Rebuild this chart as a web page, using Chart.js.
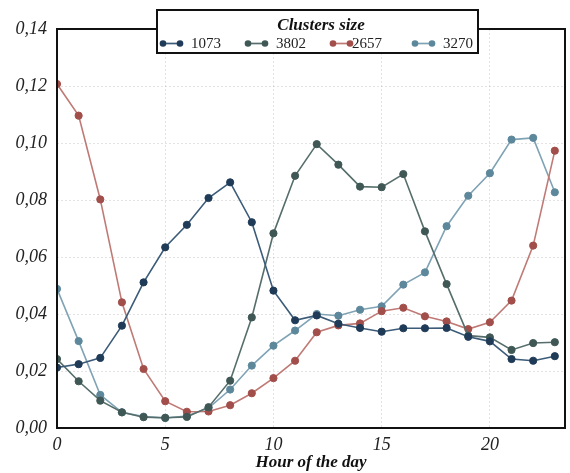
<!DOCTYPE html>
<html>
<head>
<meta charset="utf-8">
<script src="https://cdn.jsdelivr.net/npm/chart.js@4.4.1/dist/chart.umd.min.js"></script>
<style>
  html, body { margin: 0; padding: 0; background: #ffffff; }
  #wrap { position: relative; width: 570px; height: 473px; }
</style>
</head>
<body>
<div id="wrap"><canvas id="chart"></canvas></div>
<script>
// Hour of the day
const hours = [0,1,2,3,4,5,6,7,8,9,10,11,12,13,14,15,16,17,18,19,20,21,22,23];

// Share of activity per hour for each cluster
const c1073 = [0.0212,0.0224,0.0246,0.0359,0.0511,0.0634,0.0713,0.0807,0.0862,0.0722,0.0482,0.0378,0.0395,0.0366,0.0351,0.0338,0.0350,0.0350,0.0351,0.0320,0.0304,0.0242,0.0236,0.0252];
const c3802 = [0.0242,0.0164,0.0096,0.0055,0.0038,0.0036,0.0039,0.0073,0.0166,0.0388,0.0683,0.0885,0.0996,0.0924,0.0847,0.0845,0.0891,0.0690,0.0505,0.0324,0.0318,0.0274,0.0298,0.0301];
const c2657 = [0.1207,0.1096,0.0802,0.0441,0.0207,0.0094,0.0057,0.0058,0.0080,0.0122,0.0175,0.0236,0.0336,0.0360,0.0367,0.0410,0.0422,0.0392,0.0374,0.0347,0.0371,0.0447,0.0640,0.0973];
const c3270 = [0.0488,0.0305,0.0116,0.0055,0.0040,0.0035,0.0042,0.0070,0.0135,0.0219,0.0289,0.0342,0.0400,0.0394,0.0415,0.0427,0.0503,0.0546,0.0708,0.0815,0.0894,0.1012,0.1018,0.0827];

const seriesNames = ['1073', '3802', '2657', '3270'];
const seriesValues = [c1073, c3802, c2657, c3270];
const lineColors  = ['#3b5b78', '#566e6b', '#bf7a76', '#7fa3b5'];
const pointColors = ['#1f3b57', '#3f5855', '#a24e4a', '#5d879b'];

const yTicks = [0, 0.02, 0.04, 0.06, 0.08, 0.10, 0.12, 0.14];
const xTicks = [0, 5, 10, 15, 20];

const SERIF = '"Liberation Serif", "Times New Roman", serif';

const datasets = seriesNames.map((name, i) => ({
  label: name,
  data: hours.map((h, k) => ({ x: h, y: seriesValues[i][k] })),
  borderColor: lineColors[i],
  backgroundColor: pointColors[i],
  pointBackgroundColor: pointColors[i],
  pointBorderColor: pointColors[i],
  pointRadius: 3.6,
  pointBorderWidth: 1,
  borderWidth: 1.6,
  tension: 0,
  fill: false
}));

// Frame around the plotting area plus the boxed legend at the top
const framePlugin = {
  id: 'frameAndLegend',
  afterDraw(chart) {
    const ctx = chart.ctx;
    const a = chart.chartArea;
    ctx.save();
    ctx.strokeStyle = '#111111';
    ctx.lineWidth = 2;
    ctx.strokeRect(a.left, a.top, a.right - a.left, a.bottom - a.top);

    // legend box
    const bx = 157, by = 10, bw = 321, bh = 43;
    ctx.fillStyle = '#ffffff';
    ctx.fillRect(bx, by, bw, bh);
    ctx.strokeStyle = '#111111';
    ctx.lineWidth = 2;
    ctx.strokeRect(bx, by, bw, bh);

    ctx.fillStyle = '#111111';
    ctx.font = 'italic bold 17px ' + SERIF;
    ctx.textAlign = 'center';
    ctx.textBaseline = 'middle';
    ctx.fillText('Clusters size', 321, 26);

    const itemX = [163, 248, 333, 415];
    const iy = 43.5;
    ctx.font = '15px ' + SERIF;
    ctx.textAlign = 'left';
    seriesNames.forEach((name, i) => {
      const x0 = itemX[i], x1 = x0 + 17;
      ctx.strokeStyle = lineColors[i];
      ctx.lineWidth = 1.7;
      ctx.beginPath();
      ctx.moveTo(x0, iy);
      ctx.lineTo(x1, iy);
      ctx.stroke();
      ctx.fillStyle = pointColors[i];
      [x0, x1].forEach(px => {
        ctx.beginPath();
        ctx.arc(px, iy, 3.3, 0, Math.PI * 2);
        ctx.fill();
      });
      ctx.fillStyle = '#222222';
      ctx.fillText(name, x1 + (i === 2 ? 2 : 11), iy + 0.5);
    });
    ctx.restore();
  }
};

new Chart(document.getElementById('chart'), {
  type: 'line',
  data: { datasets },
  plugins: [framePlugin],
  options: {
    responsive: true,
    maintainAspectRatio: false,
    animation: false,
    devicePixelRatio: 1,
    layout: { padding: { top: 29, right: 2, left: 0, bottom: 0 } },
    plugins: {
      legend: { display: false },
      tooltip: { enabled: false }
    },
    scales: {
      x: {
        type: 'linear',
        min: 0,
        max: 23.47,
        afterBuildTicks(scale) { scale.ticks = xTicks.map(v => ({ value: v })); },
        afterFit(scale) { scale.height = 45; },
        border: { display: false, dash: [2, 2] },
        grid: { color: 'rgba(0,0,0,0.11)', drawTicks: false, lineWidth: 1 },
        ticks: {
          padding: 6,
          color: '#222222',
          font: { family: SERIF, size: 18, style: 'italic' },
          callback: v => String(v)
        },
        title: {
          display: true,
          text: 'Hour of the day',
          color: '#111111',
          padding: { top: -6, bottom: 0 },
          font: { family: SERIF, size: 17, style: 'italic', weight: 'bold' }
        }
      },
      y: {
        min: 0,
        max: 0.14,
        afterBuildTicks(scale) { scale.ticks = yTicks.map(v => ({ value: v })); },
        afterFit(scale) { scale.width = 57; },
        border: { display: false, dash: [2, 2] },
        grid: { color: 'rgba(0,0,0,0.11)', drawTicks: false, lineWidth: 1 },
        ticks: {
          padding: 10,
          color: '#222222',
          font: { family: SERIF, size: 18, style: 'italic' },
          callback: v => v.toFixed(2).replace('.', ',')
        }
      }
    }
  }
});
</script>
</body>
</html>
